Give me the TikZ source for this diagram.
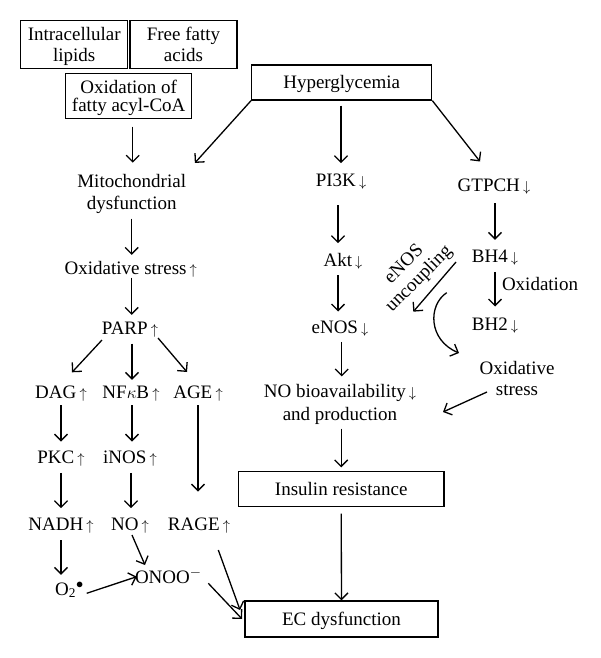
\documentclass[tikz,border=0pt]{standalone}
\usepackage{fontspec}
\setmainfont{Liberation Serif}
\usetikzlibrary{arrows.meta,calc}
\newcommand\uarr{\,{\fontsize{14}{14}\selectfont$\uparrow$}}
\newcommand\darr{\,{\fontsize{14}{14}\selectfont$\downarrow$}}
\newcommand\ltop[1]{\rule{0pt}{#1}}
\newcommand\lbot{\rule[-4.5pt]{0pt}{4.5pt}}
\begin{document}
\begin{tikzpicture}[x=1pt,y=-1pt,
  mtxt/.style={inner sep=0pt, align=center, font=\fontsize{19}{21}\selectfont},
  txt/.style={mtxt, text height=13pt, text depth=4pt},
  mbox/.style={mtxt, draw, line width=1.3pt},
  sbox/.style={mbox, text height=16pt, text depth=4pt},
  arr/.style={line width=1.3pt, -{Straight Barb[length=6.5pt,width=13pt]}}]
\useasboundingbox[fill=white] (0,0) rectangle (600,658);
% boxes
\node[mbox, minimum width=107pt, minimum height=47.6pt] (lip) at (74.2,44.5) {\ltop{18pt}Intracellular\\lipids\lbot};
\node[mbox, minimum width=107pt, minimum height=47.6pt] (ffa) at (183.5,44.5) {\ltop{18pt}Free fatty\\acids\lbot};
\node[mbox, minimum width=126pt, minimum height=45pt, font=\fontsize{19}{17.7}\selectfont] (oxf) at (128.7,95.8) {\ltop{18.6pt}Oxidation of\\fatty acyl-CoA\lbot};
\node[sbox, minimum width=180pt, minimum height=35pt] (hyp) at (341.7,82.5) {Hyperglycemia};
\node[sbox, minimum width=205.7pt, minimum height=35pt] (ins) at (341.2,489.2) {Insulin resistance};
\node[sbox, minimum width=193pt, minimum height=36pt] (ec) at (341.5,619) {EC dysfunction};
% text nodes
\node[mtxt, font=\fontsize{19}{22}\selectfont] (mito) at (131.7,194) {\ltop{13pt}Mitochondrial\\dysfunction\lbot};
\node[txt] (oxs) at (130.8,269.5) {Oxidative stress\uarr};
\node[txt] (parp) at (130,329.5) {PARP\uarr};
\node[txt] (dag) at (61,393.8) {DAG\uarr};
\node[txt] (nfkb) at (131,393.8) {NF$\kappa$B\uarr};
\node[txt] (age) at (198,393.8) {AGE\uarr};
\node[txt] (pkc) at (61,458.8) {PKC\uarr};
\node[txt] (inos) at (130,458.8) {iNOS\uarr};
\node[txt] (nadh) at (61,526.2) {NADH\uarr};
\node[txt] (noup) at (130,526.2) {NO\uarr};
\node[txt] (rage) at (199,526.2) {RAGE\uarr};
\node[txt] (otwo) at (69.5,590.5) {O\textsubscript{2}$^{\bullet}$};
\node[txt] (onoo) at (168.3,578.5) {ONOO$^{-}$};
\node[txt] (pik) at (341,182.2) {PI3K\darr};
\node[txt] (akt) at (343,262.2) {Akt\darr};
\node[txt] (enos) at (340,328.8) {eNOS\darr};
\node[mtxt, font=\fontsize{19}{23.4}\selectfont] (nob) at (340,404.75) {\ltop{13pt}NO bioavailability\darr\\and production\lbot};
\node[txt] (gtp) at (494,187.2) {GTPCH\darr};
\node[txt] (bhf) at (495,258.2) {BH4\darr};
\node[txt] (bht) at (495,325.5) {BH2\darr};
\node[txt] (oxl) at (540,285.5) {Oxidation};
\node[mtxt] (oxr) at (517,380.4) {\ltop{13pt}Oxidative\\stress\lbot};
\node[mtxt, rotate=45] (unc) at (412,272) {\ltop{13pt}eNOS\\uncoupling\lbot};
\coordinate (uncend) at (413.3,311.7);
\coordinate (cvs) at (446.7,292.7);
\coordinate (cve) at (459,353);
% connectors: left column
\draw[arr, shorten <=7.7pt, shorten >=11.3pt] ([xshift=4pt]oxf.south) -- ([xshift=4pt]oxf.south |- mito.north);
\draw[arr] (hyp.south west) -- ($(mito.north east)+(8.6,-11)$);
\draw[arr, shorten <=4.5pt, shorten >=6pt] (mito) -- (mito |- oxs.north);
\draw[arr, shorten <=-0.7pt, shorten >=6pt] (oxs.south -| mito) -- (mito |- parp.north);
\draw[arr] ($(parp)+(-28,10.5)$) -- ($(dag)+(11,-21.5)$);
\draw[arr, shorten <=5.3pt, shorten >=5.3pt] ([xshift=2pt]parp.south) -- ([xshift=2pt]parp.south |- nfkb.north);
\draw[arr] ($(parp)+(28,8.5)$) -- ($(age)+(-11,-21.8)$);
\draw[arr, shorten <=2.7pt, shorten >=8.6pt] (dag) -- (pkc);
\draw[arr, shorten <=2.7pt, shorten >=8.6pt] ([xshift=1pt]nfkb.south) -- ([xshift=1pt]nfkb.south |- inos.north);
\draw[arr, shorten <=2.7pt, shorten >=26pt] (age) -- (age |- rage.north);
\draw[arr, shorten <=5.4pt, shorten >=9.4pt] (pkc) -- (nadh);
\draw[arr, shorten <=5.4pt, shorten >=9.4pt] ([xshift=1pt]inos.south) -- ([xshift=1pt]inos.south |- noup.north);
\draw[arr, shorten <=5.3pt, shorten >=7pt] (nadh.south) -- (nadh.south |- otwo.north);
\draw[arr] ($(noup)+(2,8.8)$) -- ($(onoo)+(-23.3,-13.5)$);
\draw[arr] ($(otwo)+(17.2,2.8)$) -- ($(onoo)+(-31.6,-1.8)$);
\draw[arr] ($(onoo)+(40,4.8)$) -- ($(ec.west)+(-2.3,0)$);
\draw[arr] ($(rage)+(19.3,23.8)$) -- ($(ec.west)+(-4.3,-9)$);
% middle column
\draw[arr, shorten <=5pt, shorten >=10.4pt] (hyp.south -| pik) -- (pik.north);
\draw[arr, shorten <=14.3pt, shorten >=10.4pt] ([xshift=-3pt]pik.south) -- ([xshift=-3pt]pik.south |- akt.north);
\draw[arr, shorten <=4.3pt, shorten >=8.6pt] ([xshift=-3pt]pik.south |- akt.south) -- ([xshift=-3pt]pik.south |- enos.north);
\draw[arr, shorten <=4.4pt, shorten >=7.6pt] ([xshift=1.7pt]enos.south) -- ([xshift=1.7pt]enos.south |- nob.north);
\draw[arr, shorten <=3.1pt, shorten >=3.7pt] (nob.south -| ins) -- (ins);
\draw[arr, shorten <=6.3pt] (ins) -- (ec);
% right column
\draw[arr] (hyp.south east) -- ($(gtp.north)+(-14,-17)$);
\draw[arr, shorten <=7.3pt, shorten >=9.7pt] ([xshift=1pt]gtp.south) -- ([xshift=1pt]gtp.south |- bhf.north);
\draw[arr, shorten <=5pt, shorten >=10.3pt] (bhf) -- (bht);
\draw[arr] ($(bhf)+(-39,3.8)$) -- (uncend);
\draw[arr] (cvs) .. controls (428,305) and (428,340) .. (cve);
\draw[arr] ($(oxr)+(-30,11.6)$) -- ($(nob)+(103,7.25)$);
\end{tikzpicture}
\end{document}
